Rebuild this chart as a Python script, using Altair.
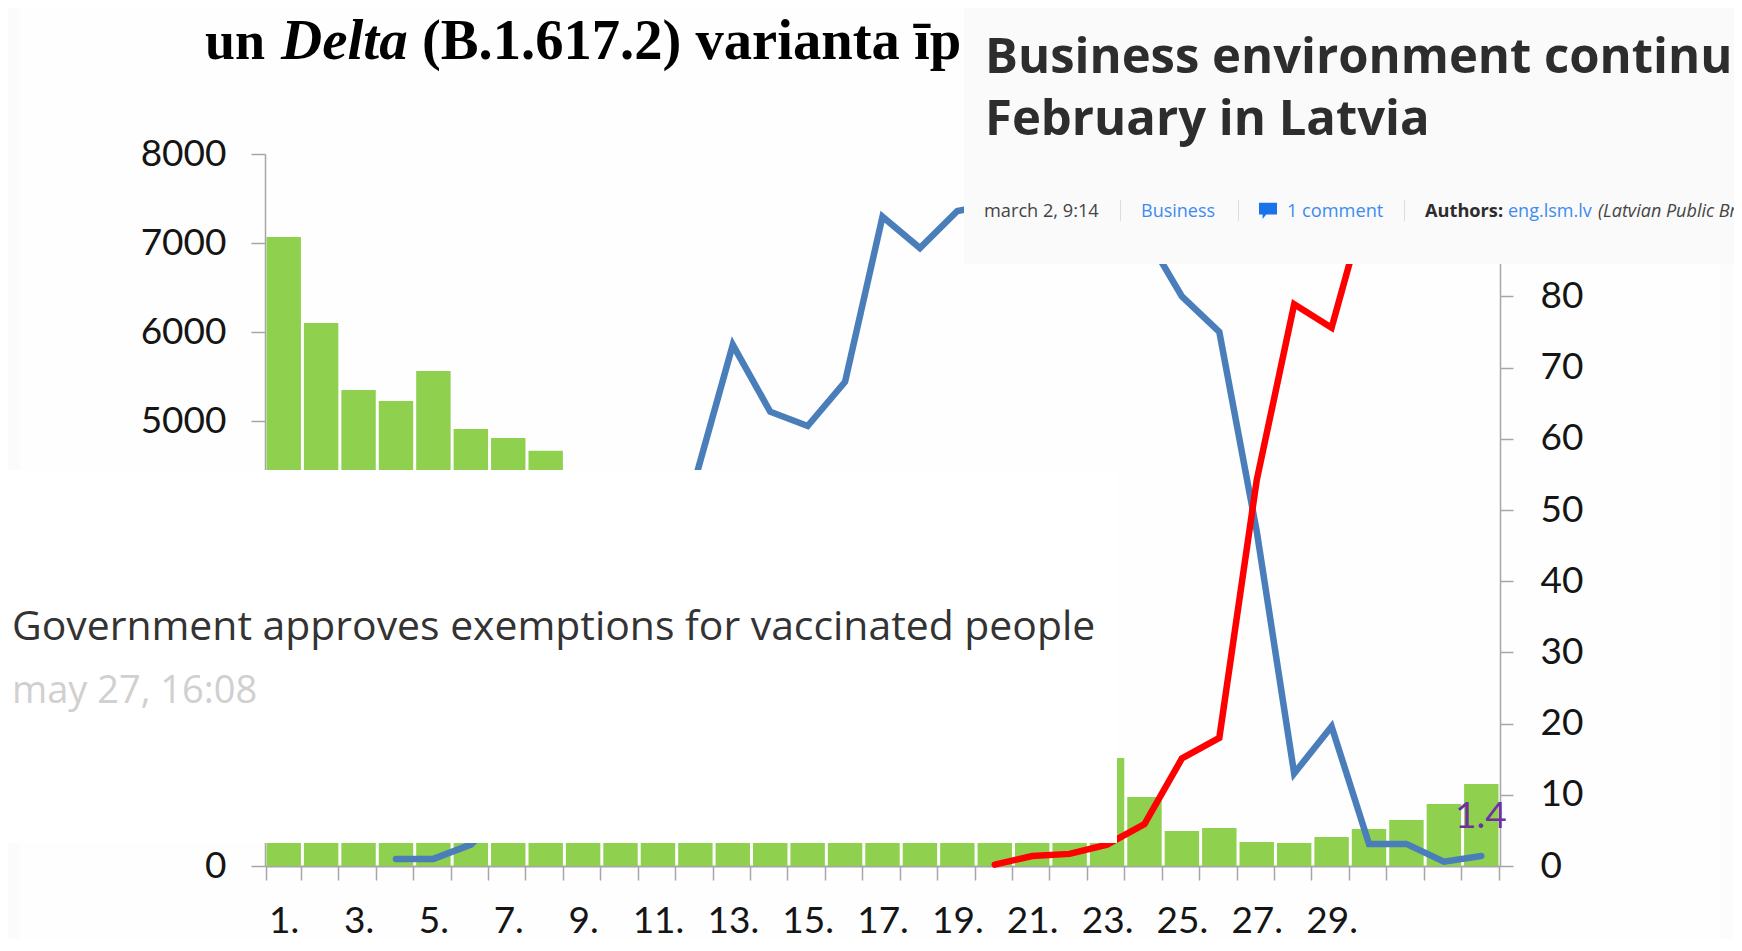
import altair as alt
import pandas as pd

days = list(range(1, 34))
cases = [7067, 6100, 5348, 5225, 5562, 4910, 4810, 4665, 4300, 4000, 3800, 3500, 3300, 3100, 2900, 2700,
         2500, 2300, 2100, 1900, 1700, 1500, 1213, 775, 393, 427, 270, 258, 326, 416, 517, 697, 921]
blue = [None, None, None, 1.0, 1.0, 3.0, 8, 18, 30, 38, 46, 54.4, 73.2, 63.8, 61.8, 68, 91.2, 86.8, 92, 93,
        95, 96, 95, 88.9, 80, 75, 47, 13.0, 19.6, 3.1, 3.1, 0.6, 1.4]
red = [None] * 19 + [0.2, 1.4, 1.7, 3.0, 5.9, 15.1, 18, 54.2, 78.9, 75.6, 94.5, 96, 98, 98.6]
left_ticks = [0, 1000, 2000, 3000, 4000, 5000, 6000, 7000, 8000]
right_ticks = [0, 10, 20, 30, 40, 50, 60, 70, 80, 90, 100]

OX, OY = 265, 154   # page position of the plot's corner
W, H = 1235, 712

df = pd.DataFrame({"day": days, "cases": cases, "blue": blue, "red": red})
xscale = alt.Scale(type="band", domain=days, paddingInner=0.08, paddingOuter=0.04)
GRAY = "#a6a6a6"

x_axis = alt.Axis(title=None, tickBand="extent", labelAngle=0, grid=False, domainColor=GRAY, domainWidth=2,
                  tickColor=GRAY, tickWidth=1.5, tickSize=14, labelFont="Lato", labelFontSize=37,
                  labelColor="#151515", labelPadding=23, labelOverlap=False,
                  labelExpr="(datum.value<=29 && datum.value%2==1) ? datum.value+'.' : ''")

bars = alt.Chart(df).mark_bar(color="#8fd14f").encode(
    x=alt.X("day:O", scale=xscale, axis=x_axis),
    y=alt.Y("cases:Q", scale=alt.Scale(domain=[0, 8000], nice=False),
            axis=alt.Axis(title=None, values=left_ticks, format="d", grid=False, domainColor=GRAY, domainWidth=1.5,
                          tickColor=GRAY, tickWidth=1.5, tickSize=14, labelFont="Lato", labelFontSize=37,
                          labelColor="#151515", labelPadding=25)),
)

def line(col, color, axis=None):
    return alt.Chart(df.dropna(subset=[col])).mark_line(color=color, strokeWidth=6.5, strokeJoin="miter",
                                                         strokeCap="round").encode(
        x=alt.X("day:O", scale=xscale, axis=x_axis),
        y=alt.Y(f"{col}:Q", scale=alt.Scale(domain=[0, 100], nice=False), axis=axis),
    )

blue_line = line("blue", "#4a7ebb", alt.Axis(title=None, orient="right", values=right_ticks, grid=False,
                                              domainColor=GRAY, domainWidth=1.5, tickColor=GRAY, tickWidth=1.5,
                                              tickSize=13, labelFont="Lato", labelFontSize=37,
                                              labelColor="#151515", labelPadding=27))
red_line = line("red", "#ff0000")

one = alt.Data(values=[{"a": 1}])

def panel(x0, x1, y0, y1, color):
    return alt.Chart(one).mark_rect(color=color).encode(
        x=alt.value(x0 - OX), x2=alt.value(x1 - OX), y=alt.value(y0 - OY), y2=alt.value(y1 - OY))

def label(s, x, y, size, font="Open Sans", color="#333333", weight="normal", style="normal"):
    return alt.Chart(alt.Data(values=[{"t": s}])).mark_text(
        align="left", baseline="alphabetic", font=font, fontSize=size, color=color,
        fontWeight=weight, fontStyle=style).encode(
        text="t:N", x=alt.value(x - OX), y=alt.value(y - OY))

panels = [
    panel(0, 20, 0, 470, "#fbfbfb"),
    panel(0, 20, 843, 951, "#fbfbfb"),
    panel(1720, 1742, 264, 951, "#fcfcfc"),
    panel(0, 1117, 470, 843, "#ffffff"),
    panel(964, 1742, 0, 264, "#fafafa"),
]

SEP = "#dddddd"
rules = [panel(x, x + 1, 200, 221, SEP) for x in (1120, 1238, 1404)]

bubble = "M-1,-0.8 L1,-0.8 L1,0.5 L-0.2,0.5 L-0.6,1 L-0.6,0.5 L-1,0.5 Z"
icon = alt.Chart(one).mark_point(shape=bubble, filled=True, color="#1a73e8", opacity=1, size=324).encode(
    x=alt.value(1268 - OX), y=alt.value(210 - OY))

BLUE = "#3d8bf0"
texts = [
    label("un", 205, 59, 54, "Liberation Serif", "#000000", "bold"),
    label("Delta", 281, 59, 57, "Liberation Serif", "#000000", "bold", "italic"),
    label("(B.1.617.2) varianta īp", 422, 59, 56.6, "Liberation Serif", "#000000", "bold"),
    label("Business environment continues", 985, 73, 49, color="#2d2d2d", weight="bold"),
    label("February in Latvia", 985, 135, 49, color="#2d2d2d", weight="bold"),
    label("march 2, 9:14", 984, 217, 18.2, color="#444444"),
    label("Business", 1141, 217, 18, color=BLUE),
    label("1 comment", 1287, 217, 18.2, color=BLUE),
    label("Authors:", 1425, 217, 18.2, color="#2d2d2d", weight="bold"),
    label("eng.lsm.lv", 1508, 217, 18, color=BLUE),
    label("(Latvian Public Broadcasting)", 1598, 217, 18, color="#444444", style="italic"),
    label("Government approves exemptions for vaccinated people", 12, 640, 40.9),
    label("may 27, 16:08", 12, 703, 38, color="#d0d0d0"),
    label("1.4", 1455, 828, 37, "Lato", "#7030a0"),
]

chart = alt.layer(bars, blue_line, red_line, *panels, *rules, icon, *texts).resolve_scale(
    y="independent"
).properties(
    width=W, height=H,
    autosize=alt.AutoSizeParams(type="none"),
    padding={"left": OX - 8, "top": OY - 8, "right": 1742 - 8 - OX - W, "bottom": 73},
    background="#fefefe",
).configure_view(stroke=None)

chart.save("out.html", embed_options={"renderer": "svg", "actions": False})
